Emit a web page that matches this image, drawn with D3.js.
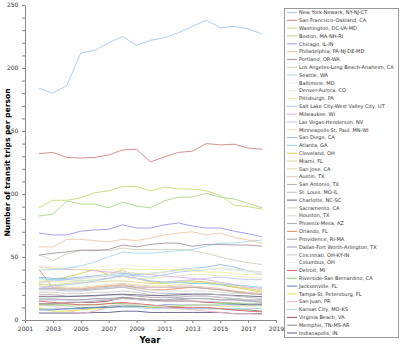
<!DOCTYPE html>
<html>
<head>
<meta charset="utf-8">
<script src="https://cdn.jsdelivr.net/npm/d3@7"></script>
<style>
  body { margin: 0; background: #fff; }
  svg text { font-family: "DejaVu Sans", Verdana, sans-serif; }
</style>
</head>
<body>
<div id="chart"></div>
<script>
// years shown on the chart
const years = d3.range(2002, 2019);
const xTicks = [2001, 2003, 2005, 2007, 2009, 2011, 2013, 2015, 2017, 2019];
const yTicks = [0, 50, 100, 150, 200, 250];

const cities = [
  "New York-Newark, NY-NJ-CT", "San Francisco-Oakland, CA", "Washington, DC-VA-MD",
  "Boston, MA-NH-RI", "Chicago, IL-IN", "Philadelphia, PA-NJ-DE-MD", "Portland, OR-WA",
  "Los Angeles-Long Beach-Anaheim, CA", "Seattle, WA", "Baltimore, MD", "Denver-Aurora, CO",
  "Pittsburgh, PA", "Salt Lake City-West Valley City, UT", "Milwaukee, WI",
  "Las Vegas-Henderson, NV", "Minneapolis-St. Paul, MN-WI", "San Diego, CA", "Atlanta, GA",
  "Cleveland, OH", "Miami, FL", "San Jose, CA", "Austin, TX", "San Antonio, TX",
  "St. Louis, MO-IL", "Charlotte, NC-SC", "Sacramento, CA", "Houston, TX", "Phoenix-Mesa, AZ",
  "Orlando, FL", "Providence, RI-MA", "Dallas-Fort Worth-Arlington, TX", "Cincinnati, OH-KY-IN",
  "Columbus, OH", "Detroit, MI", "Riverside-San Bernardino, CA", "Jacksonville, FL",
  "Tampa-St. Petersburg, FL", "San Juan, PR", "Kansas City, MO-KS", "Virginia Beach, VA",
  "Memphis, TN-MS-AR", "Indianapolis, IN"
];

const colors = [
  "#a4c8f2", "#d08484", "#c8da70", "#acd684", "#9898ee", "#f0c8a2", "#a8949f",
  "#ccd2bc", "#a0d8ee", "#eeeef4", "#eeeec8", "#ececa8", "#acc6f0", "#d8aee6",
  "#c4c4f2", "#e6e6bc", "#8cbcf0", "#88d6e6", "#d2d250", "#d8d890", "#e2daac",
  "#e6c2b8", "#b4b4b4", "#b8b8ca", "#686880", "#cacaca", "#dadada", "#acacac",
  "#e88a54", "#ac9cac", "#9c9cbc", "#c6c6c6", "#f0f0f0", "#dc6464", "#88d068",
  "#5080cc", "#e2e248", "#f2b4c4", "#a6d2f0", "#a04c5a", "#7a967a", "#5a5a88"
];

// transit trips per person, 2002-2018, one array per city
const newYork      = [184, 180, 186, 212, 214, 220, 225, 218, 222, 224, 228, 233, 238, 232, 233, 231, 227];
const sanFrancisco = [132, 133, 129, 128.5, 129, 131, 135, 135.5, 125.5, 129.5, 133, 134, 140, 139, 139.5, 136.5, 135.5];
const washington   = [89, 95, 95, 97, 101, 102.5, 106, 106, 102.5, 105.5, 104, 104, 102.5, 99, 91, 90, 88];
const boston       = [82.5, 84, 94.5, 92, 92, 89, 93.5, 90.5, 89, 94.5, 97.5, 97.5, 100.5, 97.5, 96, 92.5, 89];
const chicago      = [69, 67.5, 67.5, 70.5, 71.5, 72, 75.5, 73, 73, 75.5, 77, 74.5, 73, 73, 70.5, 68.5, 66];
const philadelphia = [58, 58, 64, 64, 63, 62, 64, 63, 65, 67.5, 69, 70, 67.5, 69, 65.5, 63.5, 61];
const portland     = [51.5, 53, 54, 55.5, 55, 56, 59.5, 58, 60, 61, 61, 58.5, 60, 60, 59.5, 59.5, 58.5];
const losAngeles   = [52, 47, 52.5, 55, 56, 55, 57, 56, 56, 56, 56, 55, 53, 50, 47.5, 45.5, 44];
const seattle      = [39.5, 40, 41, 43, 46, 50, 54, 53, 53, 54, 55, 56, 58.5, 61, 61, 62.5, 63.5];
const baltimore    = [43, 42.5, 42, 42, 42, 43, 44, 43, 42, 42, 42, 41, 40, 40, 39, 38, 37];
const denver       = [30, 30, 31, 32, 34, 36, 38, 37, 37, 38, 39, 40, 40, 41, 40, 39, 38];
const pittsburgh   = [42, 41, 41, 40, 40, 40, 41, 40, 40, 40, 40, 39, 38, 38, 37, 36, 36];
const saltLake     = [25, 27, 28, 29, 31, 33, 36, 35, 34, 36, 38, 39, 40, 41, 40, 39, 38];
const milwaukee    = [42, 41, 40, 40, 39, 38, 38, 37, 36, 35, 34, 33, 32, 30, 28, 26, 25];
const lasVegas     = [30, 31, 32, 33, 34, 35, 35, 33, 31, 30, 31, 32, 33, 34, 33, 32, 32];
const minneapolis  = [32, 31, 30, 31, 32, 33, 34, 33, 33, 34, 35, 36, 36, 35, 35, 34, 33];
const sanDiego     = [34, 33, 33, 34, 35, 36, 37, 36, 37, 38, 40, 41, 42, 44, 42, 39, 36];
const atlanta      = [33, 32, 32, 31, 32, 33, 35, 33, 31, 30, 30, 29, 29, 28, 28, 27, 26];
const cleveland    = [30, 32, 34, 37, 40, 36, 40, 33, 30, 30, 31, 31, 30, 28, 26, 24, 22];
const miami        = [28, 28, 29, 30, 30, 31, 31, 30, 29, 29, 30, 30, 30, 29, 27, 25, 23];
const sanJose      = [29, 27, 26, 26, 27, 28, 29, 28, 27, 27, 28, 29, 29, 28, 26, 25, 24];
const austin       = [27, 26, 25, 25, 26, 27, 28, 27, 26, 26, 27, 27, 26, 25, 23, 22, 21];
const sanAntonio   = [25, 25, 24, 24, 25, 26, 27, 26, 26, 26, 26, 26, 25, 24, 22, 21, 20];
const stLouis      = [24, 24, 23, 23, 24, 25, 26, 24, 22, 21, 21, 21, 21, 20, 19, 18, 17];
const charlotte    = [18.5, 18.5, 18.5, 19, 19.5, 20, 20.5, 20, 19.5, 19.5, 20, 20.5, 20.5, 20, 19.5, 19, 18.5];
const sacramento   = [22, 22, 21, 21, 22, 22, 23, 22, 20, 19, 19, 19, 19, 18, 17, 16, 16];
const houston      = [26, 26, 25, 24, 24, 25, 26, 25, 24, 23, 23, 23, 23, 22, 21, 21, 20];
const phoenix      = [13, 13, 14, 14, 15, 16, 17, 17, 16, 16, 16, 17, 17, 16, 16, 15, 15];
const orlando      = [40, 25.5, 25, 24.5, 26, 27, 28, 25.5, 24, 24, 25, 26, 25, 24, 23, 21, 20.5];
const providence   = [20, 20, 19, 19, 19, 20, 20, 19, 18, 18, 18, 19, 19, 18, 17, 16, 16];
const dallas       = [16, 16, 16, 16, 17, 17, 18, 17, 16, 16, 17, 17, 17, 16, 16, 15, 14];
const cincinnati   = [17, 17, 16, 16, 16, 16, 17, 16, 15, 15, 15, 15, 15, 14, 14, 13, 13];
const columbus     = [11, 11, 11, 11, 11, 12, 12, 12, 11, 11, 12, 12, 12, 12, 11, 11, 11];
const detroit      = [15, 14, 13, 12, 12, 13, 14, 13, 12, 11, 10, 10, 10, 9, 8, 7, 6.5];
const riverside    = [12, 12, 12, 12, 12, 13, 13, 12, 11, 11, 11, 12, 12, 13, 13, 13, 13];
const jacksonville = [8, 8, 9, 9, 10, 10, 11, 11, 11, 12, 12, 12, 12, 12, 12, 12, 12];
const tampa        = [10, 7, 7, 8, 9, 10, 11, 11, 10, 11, 11, 12, 12, 11, 11, 11, 11];
const sanJuan      = [12, 11, 8, 5, 7, 10, 13, 12, 11, 10, 9, 8, 7, 6, 5, 5, 4.5];
const kansasCity   = [9, 9, 9, 9, 9, 10, 10, 10, 9, 9, 9, 9, 9, 9, 9, 9, 9];
const virginiaBeach= [13, 13, 14, 14, 14, 15, 18, 17, 16, 15, 15, 15, 14, 14, 13, 12, 12];
const memphis      = [12, 12, 11, 10, 10, 11, 12, 11, 10, 10, 10, 9, 9, 9, 8, 8, 7];
const indianapolis = [5.5, 5.5, 5.5, 5.5, 6, 6, 7, 7, 6, 6, 6, 6, 6, 6, 5, 5, 5];

const seriesValues = [
  newYork, sanFrancisco, washington, boston, chicago, philadelphia, portland, losAngeles,
  seattle, baltimore, denver, pittsburgh, saltLake, milwaukee, lasVegas, minneapolis,
  sanDiego, atlanta, cleveland, miami, sanJose, austin, sanAntonio, stLouis, charlotte,
  sacramento, houston, phoenix, orlando, providence, dallas, cincinnati, columbus, detroit,
  riverside, jacksonville, tampa, sanJuan, kansasCity, virginiaBeach, memphis, indianapolis
];

const series = cities.map((name, i) => ({
  name: name,
  color: colors[i],
  values: years.map((yr, j) => ({ year: yr, value: seriesValues[i][j] }))
}));

const width = 400, height = 345;
const margin = { top: 5, right: 124, bottom: 25, left: 25 };

const svg = d3.select("#chart").append("svg")
  .attr("width", width)
  .attr("height", height);

const x = d3.scaleLinear()
  .domain([2001, 2019])
  .range([margin.left, width - margin.right]);

const y = d3.scaleLinear()
  .domain([0, 250])
  .range([height - margin.bottom, margin.top]);

// axes
const xAxis = g => g
  .attr("transform", `translate(0,${height - margin.bottom})`)
  .call(d3.axisBottom(x).tickValues(xTicks).tickFormat(d3.format("d")).tickSize(3).tickSizeOuter(0))
  .call(g => g.selectAll(".domain").attr("stroke", "#888"))
  .call(g => g.selectAll(".tick line").attr("stroke", "#888"))
  .call(g => g.selectAll("text").attr("font-size", 6).attr("fill", "#333").attr("dy", "0.9em")
    .style("font-family", "DejaVu Sans, sans-serif"));

const yAxis = g => g
  .attr("transform", `translate(${margin.left},0)`)
  .call(d3.axisLeft(y).ticks(25).tickSize(3).tickSizeOuter(0)
    .tickFormat(d => yTicks.includes(d) ? d : ""))
  .call(g => g.selectAll(".domain").attr("stroke", "#888"))
  .call(g => g.selectAll(".tick line").attr("stroke", "#888"))
  .call(g => g.selectAll("text").attr("font-size", 6).attr("fill", "#333").attr("dx", "-0.1em")
    .style("font-family", "DejaVu Sans, sans-serif"));

svg.append("g").call(xAxis);
svg.append("g").call(yAxis);

// lines
const line = d3.line()
  .x(d => x(d.year))
  .y(d => y(d.value));

svg.append("g")
  .attr("fill", "none")
  .attr("stroke-width", 0.9)
  .selectAll("path")
  .data(series.slice().reverse())
  .join("path")
  .attr("stroke", d => d.color)
  .attr("d", d => line(d.values));

// axis titles
svg.append("text")
  .attr("x", 150)
  .attr("y", 343)
  .attr("text-anchor", "middle")
  .attr("font-size", 8.5)
  .attr("font-weight", "bold")
  .text("Year");

svg.append("text")
  .attr("transform", `translate(10,${(y(0) + y(250)) / 2}) rotate(-90)`)
  .attr("text-anchor", "middle")
  .attr("font-size", 7.6)
  .attr("font-weight", "bold")
  .text("Number of transit trips per person");

// legend
const legend = svg.append("g");
legend.append("rect")
  .attr("x", 284.5).attr("y", 8.5)
  .attr("width", 114).attr("height", 329)
  .attr("fill", "#fff")
  .attr("stroke", "#999");

const legendY = d3.scalePoint()
  .domain(cities)
  .range([12.5, 333]);

const items = legend.selectAll("g.item")
  .data(series)
  .join("g")
  .attr("class", "item")
  .attr("transform", d => `translate(0,${legendY(d.name)})`);

items.append("line")
  .attr("x1", 287).attr("x2", 297)
  .attr("stroke", d => d.color)
  .attr("stroke-width", 1);

items.append("text")
  .attr("x", 299)
  .attr("dy", "0.35em")
  .attr("font-size", 5)
  .attr("fill", "#333")
  .text(d => d.name);
</script>
</body>
</html>
